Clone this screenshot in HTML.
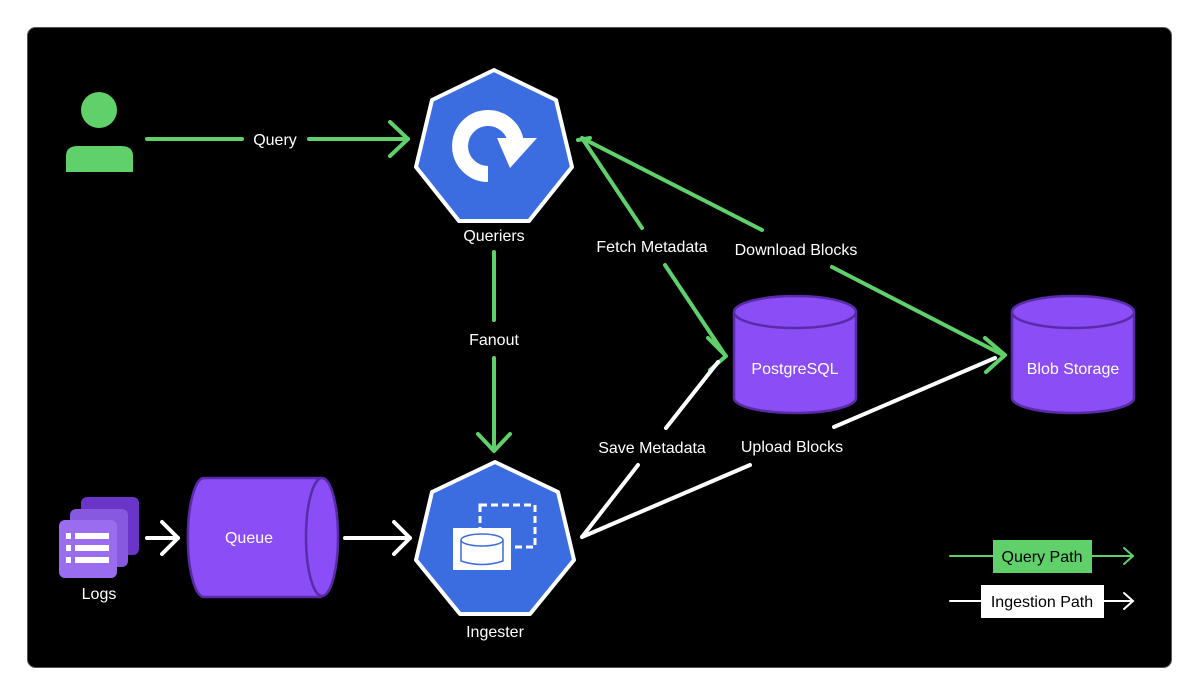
<!DOCTYPE html>
<html><head><style>body{margin:0;background:#fff}svg{display:block}text{font-family:"Liberation Sans",sans-serif;}</style></head><body>
<svg width="1199" height="696" viewBox="0 0 1199 696" xmlns="http://www.w3.org/2000/svg">
<rect x="0" y="0" width="1199" height="696" fill="#fff"/>
<rect x="27.5" y="27.5" width="1144" height="640" rx="8" fill="#000" stroke="#555"/>
<g fill="none" stroke-linecap="round" stroke-linejoin="round" stroke-width="4">
<g stroke="#5fd06a">
<line x1="147" y1="139" x2="242" y2="139"/><line x1="309" y1="139" x2="408" y2="139"/>
<polyline points="390,122 408,139 390,156"/>
<line x1="494" y1="252" x2="494" y2="320"/><line x1="494" y1="358" x2="494" y2="450"/>
<polyline points="478,434 494,451 510,434"/>
<line x1="582" y1="138" x2="642" y2="228"/><line x1="582" y1="138" x2="762" y2="230"/>
<line x1="665" y1="265" x2="725" y2="355"/><line x1="832" y1="267" x2="1003" y2="355"/>
<polyline points="708,338 726,356 710,370"/>
<polyline points="985,338 1005,355 986,372"/>
<line x1="578" y1="140" x2="590" y2="138"/>
</g>
<g stroke="#fff">
<line x1="582" y1="537" x2="638" y2="465"/><line x1="666" y1="428" x2="718" y2="362"/>
<line x1="582" y1="537" x2="750" y2="465"/><line x1="834" y1="427" x2="995" y2="358"/>
<line x1="147" y1="538" x2="178" y2="538"/><polyline points="162,522 178,538 162,554"/>
<line x1="345" y1="538" x2="410" y2="538"/><polyline points="394,522 410,538 394,554"/>
</g>
</g>
<circle cx="99" cy="110" r="18" fill="#5fd06a"/>
<path d="M66,172 V156 Q66,146 78,146 H121 Q133,146 133,156 V172 Z" fill="#5fd06a"/>
<polygon points="494,70 556,100 572,167 529,221 459,221 416,167 432,100" fill="#3b6de0" stroke="#fff" stroke-width="4" stroke-linejoin="round"/>
<path d="M488,174 A28,28 0 1 1 516,144" fill="none" stroke="#fff" stroke-width="16"/>
<polygon points="497,138 537,138 510,168" fill="#fff"/>
<polygon points="495,462 558,492 574,560 530,614 460,614 416,560 432,492" fill="#3b6de0" stroke="#fff" stroke-width="4" stroke-linejoin="round"/>
<rect x="480" y="505" width="55" height="42" fill="none" stroke="#fff" stroke-width="3" stroke-dasharray="7,4"/>
<rect x="453" y="528" width="58" height="42" fill="#fff"/>
<ellipse cx="482" cy="540" rx="21" ry="6" fill="none" stroke="#3b6de0" stroke-width="1.5"/>
<path d="M461,540 V561 Q482,568 503,561 V540" fill="none" stroke="#3b6de0" stroke-width="1.5"/>
<g fill="#8b4df5" stroke="#5a2ba8" stroke-width="2.5">
<path d="M734,312 V398 A61,15 0 0 0 856,398 V312"/><ellipse cx="795" cy="312" rx="61" ry="16"/>
<path d="M1012,312 V398 A61,15 0 0 0 1134,398 V312"/><ellipse cx="1073" cy="312" rx="61" ry="16"/>
<path d="M322,478 H204 A16,59 0 0 0 204,597 H322"/><ellipse cx="322" cy="537" rx="16" ry="59"/>
</g>
<rect x="81" y="497" width="58" height="58" rx="6" fill="#6a35c8"/>
<rect x="70" y="509" width="58" height="58" rx="6" fill="#8758e0"/>
<rect x="59" y="520" width="58" height="58" rx="6" fill="#9a6cf0"/>
<g fill="#fff"><rect x="66" y="533" width="5" height="6"/><rect x="75" y="533" width="34" height="6"/><rect x="66" y="545" width="5" height="6"/><rect x="75" y="545" width="34" height="6"/><rect x="66" y="557" width="5" height="6"/><rect x="75" y="557" width="34" height="6"/></g>
<g fill="#fff" font-size="16" text-anchor="middle">
<text x="275" y="145">Query</text>
<text x="494" y="241">Queriers</text>
<text x="494" y="345">Fanout</text>
<text x="652" y="252">Fetch Metadata</text>
<text x="796" y="255">Download Blocks</text>
<text x="652" y="453">Save Metadata</text>
<text x="792" y="452">Upload Blocks</text>
<text x="795" y="374">PostgreSQL</text>
<text x="1073" y="374">Blob Storage</text>
<text x="249" y="543">Queue</text>
<text x="99" y="599">Logs</text>
<text x="495" y="637">Ingester</text>
</g>
<g stroke-width="2" fill="none" stroke-linecap="round">
<line x1="950" y1="556" x2="1133" y2="556" stroke="#5fd06a"/><polyline points="1124,548 1133,556 1124,564" stroke="#5fd06a"/>
<line x1="950" y1="601" x2="1133" y2="601" stroke="#fff"/><polyline points="1124,593 1133,601 1124,609" stroke="#fff"/>
</g>
<rect x="993" y="540" width="99" height="33" fill="#5fd06a"/>
<rect x="981" y="585" width="123" height="33" fill="#fff"/>
<g font-size="16" text-anchor="middle" fill="#000">
<text x="1042" y="562">Query Path</text>
<text x="1042" y="607">Ingestion Path</text>
</g>
</svg>
</body></html>
